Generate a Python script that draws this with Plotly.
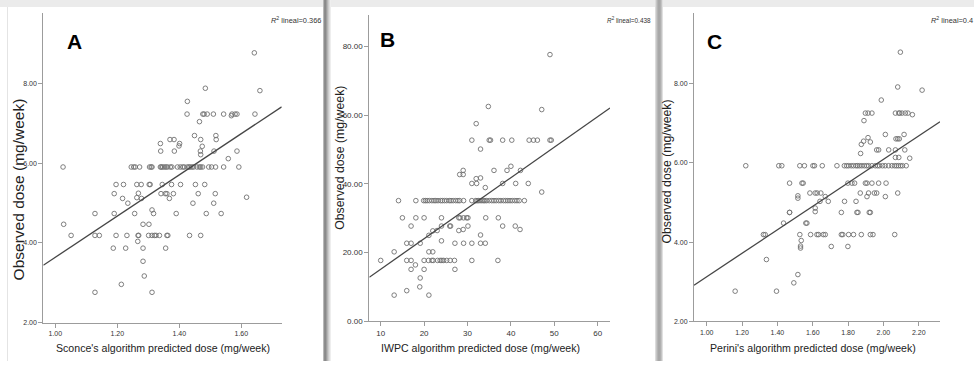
import plotly.graph_objects as go

# ---------------- data ----------------
# Panel A: Sconce's algorithm
sconce_pred = [
    1.642, 1.660, 1.484, 1.426, 1.425, 1.465, 1.476, 1.480, 1.490, 1.510, 1.543, 1.570, 1.580, 1.586, 1.644, 1.568,
    1.449, 1.518, 1.469, 1.519, 1.370, 1.383, 1.339, 1.401, 1.399, 1.474, 1.340, 1.384, 1.468, 1.512, 1.586, 1.469, 1.558,
    1.025, 1.245, 1.253, 1.258, 1.272, 1.304, 1.309, 1.312, 1.339, 1.342, 1.346, 1.352, 1.357, 1.362, 1.371, 1.376,
    1.394, 1.403, 1.411, 1.416, 1.426, 1.431, 1.435, 1.441, 1.446, 1.457, 1.465, 1.469, 1.475, 1.495, 1.504, 1.517, 1.543, 1.592,
    1.196, 1.220, 1.263, 1.277, 1.303, 1.306, 1.345, 1.375, 1.404, 1.452, 1.482,
    1.190, 1.217, 1.234, 1.268, 1.263, 1.278, 1.256, 1.312, 1.317, 1.341, 1.355, 1.360, 1.368, 1.381, 1.390, 1.444,
    1.461, 1.511, 1.516, 1.487, 1.535, 1.617, 1.128, 1.190, 1.027, 1.283, 1.302,
    1.051, 1.128, 1.142, 1.196, 1.231, 1.267, 1.269, 1.301, 1.312, 1.320, 1.325, 1.336, 1.360, 1.363, 1.433, 1.469,
    1.266, 1.187, 1.227, 1.283, 1.356, 1.283, 1.287, 1.213, 1.128, 1.312,
]
sconce_obs = [
    8.78, 7.83, 7.89, 7.56, 7.24, 7.05, 7.24, 7.24, 7.24, 7.24, 7.24, 7.24, 7.24, 7.24, 7.24, 7.20,
    6.70, 6.70, 6.60, 6.60, 6.60, 6.60, 6.50, 6.50, 6.44, 6.43, 6.31, 6.31, 6.31, 6.31, 6.31, 6.22, 6.12,
    5.91, 5.91, 5.91, 5.91, 5.91, 5.91, 5.91, 5.91, 5.91, 5.91, 5.91, 5.91, 5.91, 5.91, 5.91, 5.91,
    5.91, 5.91, 5.91, 5.91, 5.91, 5.91, 5.91, 5.91, 5.91, 5.91, 5.91, 5.91, 5.91, 5.91, 5.91, 5.91, 5.91, 5.91,
    5.47, 5.47, 5.47, 5.47, 5.47, 5.47, 5.47, 5.47, 5.47, 5.47, 5.47,
    5.24, 5.12, 5.00, 5.25, 5.14, 5.12, 4.74, 4.83, 4.74, 5.24, 5.24, 5.24, 5.12, 5.24, 4.74, 5.00,
    5.24, 5.00, 5.24, 4.74, 4.74, 5.15, 4.74, 4.74, 4.47, 4.47, 4.47,
    4.19, 4.19, 4.19, 4.19, 4.19, 4.19, 4.19, 4.19, 4.19, 4.19, 4.19, 4.19, 4.19, 4.19, 4.19, 4.19,
    4.04, 3.87, 3.87, 3.87, 3.87, 3.54, 3.17, 2.96, 2.76, 2.76,
]

# Panel B: IWPC algorithm
iwpc_pred = [
    49.0, 34.8, 47.1, 32.0,
    31.0, 35.0, 35.3, 38.1, 40.2, 44.2, 45.2, 46.1, 49.0, 49.3,
    33.0, 31.0, 32.1, 32.0, 33.0, 28.2, 29.0, 29.0, 36.1, 39.1, 40.0, 42.2, 34.1, 38.1, 41.1, 44.0, 47.1,
    14.1, 18.1, 19.9, 20.3, 20.7, 21.2, 21.8, 22.3, 22.7, 23.2, 23.8, 24.2, 24.7, 25.2, 25.8, 26.2, 26.7, 27.3,
    27.8, 28.2, 29.1, 31.0, 31.9, 32.2, 32.5, 32.9, 33.3, 33.7, 34.0, 34.4, 35.0, 35.6, 36.1, 36.6, 37.2, 37.7,
    38.3, 38.8, 39.3, 39.8, 40.3, 40.9, 41.4, 41.9, 43.1,
    15.0, 18.1, 20.0, 24.0, 28.0, 28.3, 29.1, 29.8, 30.1, 34.2, 37.1,
    17.0, 24.0, 25.9, 26.1, 30.1, 38.1, 41.0, 42.1, 28.0, 29.0, 21.1, 22.0, 23.0, 33.0, 24.0,
    16.0, 17.0, 19.1, 27.1, 29.1, 31.0, 33.0, 34.1,
    13.1, 21.1, 22.0,
    10.0, 16.0, 17.0, 20.0, 21.0, 21.8, 22.1, 23.1, 23.7, 24.1, 24.5, 25.2, 26.0, 27.0, 31.0, 37.0,
    18.0, 17.0, 20.0, 27.1, 19.1, 19.0, 16.0, 13.1, 21.1,
]
iwpc_obs = [
    77.6, 62.5, 61.6, 57.5,
    52.7, 52.7, 52.7, 52.7, 52.7, 52.7, 52.7, 52.7, 52.7, 52.7,
    50.1, 40.1, 40.1, 41.5, 41.7, 42.7, 42.7, 43.9, 43.9, 43.9, 45.1, 43.9, 38.9, 40.1, 40.1, 40.1, 37.6,
    35.1, 35.1, 35.1, 35.1, 35.1, 35.1, 35.1, 35.1, 35.1, 35.1, 35.1, 35.1, 35.1, 35.1, 35.1, 35.1, 35.1, 35.1,
    35.1, 35.1, 35.1, 35.1, 35.1, 35.1, 35.1, 35.1, 35.1, 35.1, 35.1, 35.1, 35.1, 35.1, 35.1, 35.1, 35.1, 35.1,
    35.1, 35.1, 35.1, 35.1, 35.1, 35.1, 35.1, 35.1, 35.1,
    30.1, 30.1, 30.1, 30.1, 30.1, 30.1, 30.1, 30.1, 30.1, 30.1, 30.1,
    27.7, 27.7, 27.7, 27.7, 27.7, 27.7, 27.7, 26.7, 26.4, 26.7, 25.0, 26.3, 26.4, 25.1, 23.4,
    22.7, 22.7, 22.7, 22.7, 22.7, 22.7, 22.7, 22.7,
    20.2, 20.2, 20.2,
    17.7, 17.7, 17.7, 17.7, 17.7, 17.7, 17.7, 17.7, 17.7, 17.7, 17.7, 17.7, 17.7, 17.7, 17.7, 17.7,
    16.4, 15.1, 15.1, 15.1, 12.6, 10.0, 8.9, 7.6, 7.6,
]

# Panel C: Perini's algorithm
perini_pred = [
    2.096, 2.081, 2.219, 1.988,
    1.898, 1.913, 1.935, 2.068, 2.087, 2.092, 2.105, 2.124, 2.139, 2.164,
    1.890, 2.011, 2.117, 2.071, 2.081, 2.090, 1.913, 1.888, 1.875, 1.926, 1.871, 1.962, 1.973, 2.030, 2.068,
    2.121, 2.068, 2.087, 2.149,
    1.221, 1.408, 1.425, 1.527, 1.553, 1.601, 1.610, 1.654, 1.737, 1.779, 1.792, 1.803, 1.818, 1.831, 1.845,
    1.854, 1.865, 1.878, 1.892, 1.905, 1.916, 1.935, 1.954, 1.967, 1.978, 1.995, 2.010, 2.029, 2.048, 2.063,
    2.074, 2.085, 2.097, 2.108, 2.129,
    1.469, 1.539, 1.546, 1.799, 1.822, 1.837, 1.898, 1.907, 1.935, 1.973, 2.015,
    1.584, 1.614, 1.625, 1.646, 1.869, 1.916, 1.949, 1.962, 2.081,
    1.516, 1.516, 1.907, 2.011, 1.671, 1.641, 1.688, 1.780, 1.845, 1.614, 1.614, 1.469, 1.469, 1.762, 1.850,
    1.856, 1.920, 1.926, 1.435, 1.561, 1.567,
    1.321, 1.331, 1.527, 1.588, 1.624, 1.633, 1.660, 1.671, 1.762, 1.770, 1.803, 1.831, 1.875, 1.926, 1.941, 2.064,
    1.535, 1.531, 1.531, 1.705, 1.799, 1.338, 1.516, 1.493, 1.161, 1.395,
]
perini_obs = [
    8.80, 7.92, 7.84, 7.59,
    7.26, 7.26, 7.26, 7.26, 7.26, 7.26, 7.26, 7.26, 7.26, 7.22,
    7.07, 6.72, 6.72, 6.61, 6.61, 6.61, 6.64, 6.55, 6.47, 6.53, 6.24, 6.33, 6.33, 6.33, 6.33,
    6.33, 6.14, 6.14, 6.12,
    5.93, 5.93, 5.93, 5.93, 5.93, 5.93, 5.93, 5.93, 5.93, 5.93, 5.93, 5.93, 5.93, 5.93, 5.93,
    5.93, 5.93, 5.93, 5.93, 5.93, 5.93, 5.93, 5.93, 5.93, 5.93, 5.93, 5.93, 5.93, 5.93, 5.93,
    5.93, 5.93, 5.93, 5.93, 5.93,
    5.49, 5.49, 5.49, 5.49, 5.49, 5.49, 5.49, 5.49, 5.49, 5.49, 5.49,
    5.24, 5.24, 5.24, 5.24, 5.24, 5.24, 5.24, 5.24, 5.24,
    5.17, 5.11, 5.15, 5.15, 5.15, 5.03, 5.03, 5.03, 5.03, 4.86, 4.77, 4.75, 4.75, 4.75, 4.75,
    4.75, 4.75, 4.75, 4.48, 4.48, 4.48,
    4.19, 4.19, 4.19, 4.19, 4.19, 4.19, 4.19, 4.19, 4.19, 4.19, 4.19, 4.19, 4.19, 4.19, 4.19, 4.19,
    4.04, 3.90, 3.85, 3.89, 3.89, 3.56, 3.18, 2.97, 2.76, 2.76,
]

# fitted linear regression lines (intercept, slope) and R^2 labels
fit_sconce = (-1.54, 5.18)
fit_iwpc = (6.26, 0.888)
fit_perini = (0.156, 2.968)
r2_labels = ["0.366", "0.438", "0.4"]
panel_letters = ["A", "B", "C"]
x_titles = ["Sconce's algorithm predicted dose (mg/week)",
            "IWPC algorithm predicted dose (mg/week)",
            "Perini's algorithm predicted dose (mg/week)"]
y_title = "Observed dose (mg/week)"

for a, b in [(sconce_pred, sconce_obs), (iwpc_pred, iwpc_obs), (perini_pred, perini_obs)]:
    assert len(a) == len(b), (len(a), len(b))

# ---------------- layout helpers ----------------
W, H = 974, 366
def fx(p):
    return p / W
def fy(p):
    return 1 - p / H

FONT = "Arial, Liberation Sans, sans-serif"
AXC = "#9c9c9c"
MK = "#707070"

panels = [
    dict(x=sconce_pred, y=sconce_obs, fit=fit_sconce, xpx=(43.3, 281.7), ypx=(13, 327),
         xr=[0.9613, 1.7303], yr=[2.0, 9.786], xt=[1.0, 1.2, 1.4, 1.6], yt=[2, 4, 6, 8],
         xf=".2f", yf=".2f", tfs=7),
    dict(x=iwpc_pred, y=iwpc_obs, fit=fit_iwpc, xpx=(369.3, 610), ypx=(15, 325.7),
         xr=[7.373, 62.83], yr=[0.0, 89.18], xt=[10, 20, 30, 40, 50, 60], yt=[0, 20, 40, 60, 80],
         xf="d", yf=".2f", tfs=8),
    dict(x=perini_pred, y=perini_obs, fit=fit_perini, xpx=(694, 940), ypx=(13, 325.7),
         xr=[0.9281, 2.3203], yr=[2.0, 9.794], xt=[1.0, 1.2, 1.4, 1.6, 1.8, 2.0, 2.2], yt=[2, 4, 6, 8],
         xf=".2f", yf=".2f", tfs=7),
]

fig = go.Figure()
layout = {}
for i, p in enumerate(panels):
    n = "" if i == 0 else str(i + 1)
    xa, ya = "x" + n, "y" + n
    fig.add_trace(go.Scatter(
        x=p["x"], y=p["y"], mode="markers", xaxis=xa, yaxis=ya,
        marker=dict(symbol="circle-open", size=4.6, color=MK, line=dict(width=0.9, color=MK)),
        hoverinfo="skip"))
    b0, b1 = p["fit"]
    lx = p["xr"]
    fig.add_trace(go.Scatter(
        x=lx, y=[b0 + b1 * v for v in lx], mode="lines", xaxis=xa, yaxis=ya,
        line=dict(color="#464646", width=1.3), hoverinfo="skip"))
    common = dict(showline=True, linecolor=AXC, linewidth=1, ticks="outside", ticklen=4,
                  tickcolor=AXC, tickwidth=1, showgrid=False, zeroline=False, mirror=False,
                  tickfont=dict(family=FONT, size=p["tfs"], color="#333333"), fixedrange=True)
    layout["xaxis" + n] = dict(common, domain=[fx(p["xpx"][0]), fx(p["xpx"][1])], range=p["xr"],
                               tickvals=p["xt"], tickformat=p["xf"], anchor=ya)
    layout["yaxis" + n] = dict(common, domain=[fy(p["ypx"][1]), fy(p["ypx"][0])], range=p["yr"],
                               tickvals=p["yt"], tickformat=p["yf"], anchor=xa)

fig.update_layout(**layout)

# ---------------- background decoration (screenshot panels) ----------------
shapes = []
def rect(x0, x1, y0, y1, color):
    shapes.append(dict(type="rect", xref="paper", yref="paper", x0=fx(x0), x1=fx(x1),
                       y0=fy(y1), y1=fy(y0), fillcolor=color, line=dict(width=0), layer="below"))
rect(0, W, 0, 7, "#ebebeb")
rect(7, 8, 7, H, "#e4e4e4")
for x0, c in [(323, "#b8b8b8"), (324, "#8e8e8e"), (325, "#8a8a8a"), (326, "#9e9e9e"),
              (327, "#b6b6b6"), (328, "#cccccc"), (329, "#dedede"), (330, "#eeeeee")]:
    rect(x0, x0 + 1, 0, H, c)
for x0, c in [(655, "#dcdcdc"), (656, "#c6c6c6"), (657, "#b4b4b4"), (658, "#a8a8a8"),
              (659, "#a8a8a8"), (660, "#b0b0b0"), (661, "#c4c4c4"), (662, "#e0e0e0")]:
    rect(x0, x0 + 1, 0, H, c)

# ---------------- annotations ----------------
ann = []
def text(xp, yp, s, size, xanchor="center", yanchor="middle", angle=0, bold=False, color="#222"):
    ann.append(dict(x=fx(xp), y=fy(yp), xref="paper", yref="paper", text=("<b>%s</b>" % s) if bold else s,
                    showarrow=False, xanchor=xanchor, yanchor=yanchor, textangle=angle, borderpad=0,
                    font=dict(family=FONT, size=size, color=color)))

# panel letters
for (xp, yp), s in zip([(74, 42), (387, 40), (714, 42)], panel_letters):
    text(xp, yp, s, 21, bold=True, color="#000")
# x titles
for xp, s in zip([162.5, 480, 812.5], x_titles):
    text(xp, 353, s, 10.6)
# y titles
for xp, yp, size in [(18, 192, 15.5), (340, 160, 12.3), (667, 174, 12.3)]:
    text(xp, yp, y_title, size, angle=-90)
# R^2 labels
for (xp, size), r in zip([(322, 7.4), (652, 6.4), (974, 7.4)], r2_labels):
    text(xp, 20, "<i>R</i><sup>2</sup> lineal=" + r, size, xanchor="right", color="#333")

fig.update_layout(
    width=W, height=H, margin=dict(l=0, r=0, t=0, b=0),
    paper_bgcolor="white", plot_bgcolor="white", showlegend=False,
    shapes=shapes, annotations=ann,
)

fig.write_html("out.html", config={"displayModeBar": False, "staticPlot": True},
               post_script="document.body.style.margin='0';document.body.style.overflow='hidden';")
